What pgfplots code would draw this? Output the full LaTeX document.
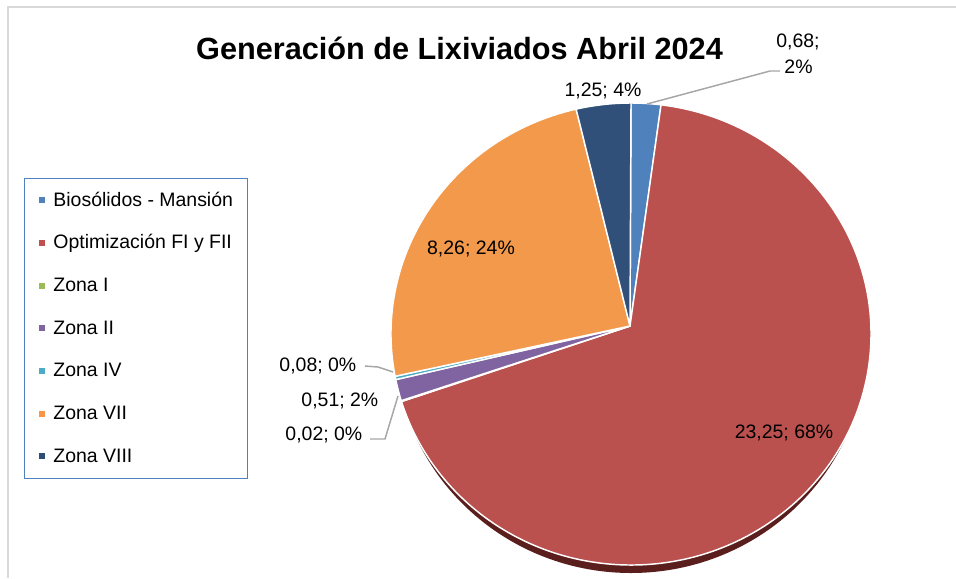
\documentclass[border=0pt]{standalone}
\usepackage{pgfplots}
\pgfplotsset{compat=1.18}
\usepackage{pgfplotstable}
\usepackage{fontspec}
\setmainfont{Liberation Sans}

\definecolor{cBio}{HTML}{4F81BD}
\definecolor{cOpt}{HTML}{BA514E}
\definecolor{cZI}{HTML}{9BBB59}
\definecolor{cZII}{HTML}{8064A2}
\definecolor{cZIV}{HTML}{4BACC6}
\definecolor{cZVII}{HTML}{F2994B}
\definecolor{cZVIII}{HTML}{30507A}
\definecolor{lOpt}{HTML}{C0504D}
\definecolor{lZVII}{HTML}{F79646}
\definecolor{lZVIII}{HTML}{2C4D75}
\definecolor{legblue}{HTML}{4F81BD}
\definecolor{leader}{HTML}{A6A6A6}
\definecolor{framegray}{HTML}{D9D9D9}
\definecolor{shadowc}{HTML}{5A1F1D}

% values of each zone (m3), clockwise from 12 o'clock
\pgfplotstableread{
value col
0.68  cBio
23.25 cOpt
0.02  cZI
0.51  cZII
0.08  cZIV
8.26  cZVII
1.25  cZVIII
}\piedata

\newcommand\lfont{\fontsize{14.6}{17.5}\selectfont}
\newcommand\legtxt[1]{\raisebox{0pt}[10.5pt][0pt]{#1}}
\pgfplotsset{sq legend/.style={legend image code/.code={\fill[##1, draw=none] (0pt,-2.25pt) rectangle (4.5pt,2.25pt);}}}

\begin{document}
\begin{tikzpicture}
\xdef\total{0}
\pgfplotstableforeachcolumnelement{value}\of\piedata\as\v{%
  \pgfmathparse{\total+\v}\xdef\total{\pgfmathresult}}
\begin{axis}[
  width=717pt, height=433.5pt, scale only axis,
  xmin=0, xmax=956, ymin=0, ymax=578, y dir=reverse,
  hide axis, clip=false,
  legend cell align=left,
  legend style={at={(axis cs:24,177.5)}, anchor=north west,
    draw=legblue, line width=1.1pt, fill=white,
    inner xsep=11pt, inner ysep=10.5pt, row sep=20pt, column sep=6pt,
    font=\lfont, nodes={inner sep=0pt}},
]
% frame of the chart area
\draw[framegray, line width=1.5pt] (axis cs:7.5,578) -- (axis cs:7.5,7) -- (axis cs:956,7);
% title
\node[anchor=base, font=\fontsize{23}{27}\selectfont\bfseries] at (axis cs:459.5,59) {Generación de Lixiviados Abril 2024};
% shadow / depth of the pie
\fill[shadowc] (axis cs:631,342) ellipse [x radius=177pt, y radius=173.25pt];
% slices
\xdef\angA{90}
\pgfplotsforeachungrouped \i in {0,...,6}{%
  \pgfplotstablegetelem{\i}{value}\of\piedata \let\v\pgfplotsretval
  \pgfplotstablegetelem{\i}{col}\of\piedata \let\c\pgfplotsretval
  \pgfmathsetmacro\angB{\angA-360*\v/\total}%
  \edef\temp{\noexpand\filldraw[fill=\c, draw=white, line width=1.1pt, line join=round]
    (axis cs:631,334) ++(\angA:180pt and 173.25pt)
    arc[start angle=\angA, end angle=\angB, x radius=180pt, y radius=173.25pt]
    -- (axis cs:630,326) -- cycle;}%
  \temp
  \xdef\angA{\angB}%
}
% leader lines
\draw[leader, line width=1.1pt] (axis cs:647,104) -- (axis cs:770,71) -- (axis cs:780,71);
\draw[leader, line width=1.1pt] (axis cs:365,366) -- (axis cs:378,367) -- (axis cs:393,372);
\draw[leader, line width=1.1pt] (axis cs:370,439) -- (axis cs:385,439) -- (axis cs:398,396);
% data labels
\node[anchor=base, font=\lfont] at (axis cs:798,47) {0,68;};
\node[anchor=base, font=\lfont] at (axis cs:798.5,73.5) {2\%};
\node[anchor=base, font=\lfont] at (axis cs:603,96.5) {1,25; 4\%};
\node[anchor=base, font=\lfont] at (axis cs:471,254) {8,26; 24\%};
\node[anchor=base, font=\lfont] at (axis cs:784,438) {23,25; 68\%};
\node[anchor=base east, font=\lfont] at (axis cs:361,371) {0,08; 0\%};
\node[anchor=base east, font=\lfont] at (axis cs:383,406.5) {0,51; 2\%};
\node[anchor=base east, font=\lfont] at (axis cs:367,440) {0,02; 0\%};
% legend
\addlegendimage{sq legend, fill=cBio}\addlegendentry{\legtxt{Biosólidos - Mansión}}
\addlegendimage{sq legend, fill=lOpt}\addlegendentry{\legtxt{Optimización FI y FII}}
\addlegendimage{sq legend, fill=cZI}\addlegendentry{\legtxt{Zona I}}
\addlegendimage{sq legend, fill=cZII}\addlegendentry{\legtxt{Zona II}}
\addlegendimage{sq legend, fill=cZIV}\addlegendentry{\legtxt{Zona IV}}
\addlegendimage{sq legend, fill=lZVII}\addlegendentry{\legtxt{Zona VII}}
\addlegendimage{sq legend, fill=lZVIII}\addlegendentry{\legtxt{Zona VIII}}
\end{axis}
\pgfresetboundingbox
\path (0,0) rectangle (717pt,433.5pt);
\end{tikzpicture}
\end{document}
